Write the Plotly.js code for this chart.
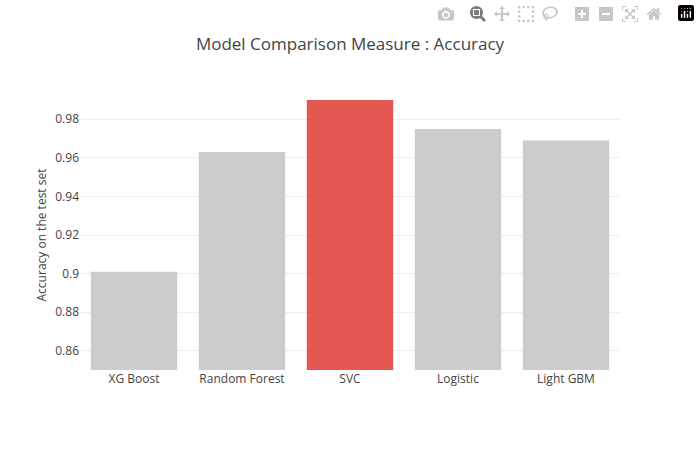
<!DOCTYPE html>
<html>
<head>
<meta charset="utf-8">
<script src="https://cdn.plot.ly/plotly-3.0.1.min.js"></script>
<style>body{margin:0}</style>
</head>
<body>
<div id="chart" style="width:700px;height:450px"></div>
<script>
// Model accuracy values
const models = ['XG Boost', 'Random Forest', 'SVC', 'Logistic', 'Light GBM'];
const accuracy = [0.901, 0.963, 0.99, 0.975, 0.969];
const barColors = ['rgba(204,204,204,1)', 'rgba(204,204,204,1)', 'rgba(222,45,38,0.8)', 'rgba(204,204,204,1)', 'rgba(204,204,204,1)'];

Plotly.newPlot('chart', [{
    x: models, y: accuracy, type: 'bar',
    marker: { color: barColors }
}], {
    title: { text: 'Model Comparison Measure : Accuracy' },
    yaxis: { title: { text: 'Accuracy on the test set', font: { size: 12 } }, range: [0.85, 0.99], zeroline: false },
    width: 700, height: 450
});
</script>
</body>
</html>
